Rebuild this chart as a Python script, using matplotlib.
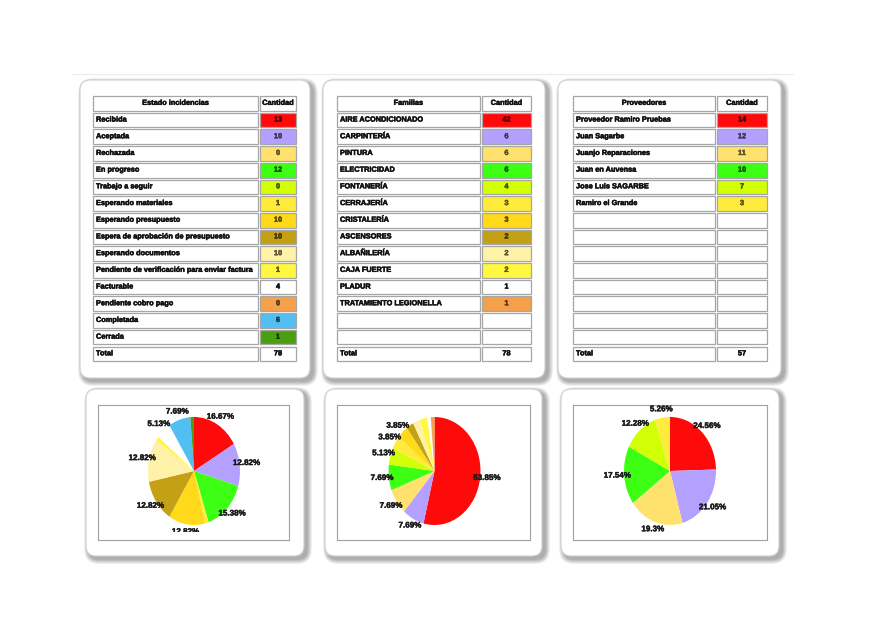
import matplotlib
matplotlib.use('Agg')
import matplotlib.pyplot as plt
from matplotlib.patches import FancyBboxPatch, Rectangle
from matplotlib.colors import to_rgb
import matplotlib.patheffects as pe

# ---------------- data ----------------
estado_labels = ["Recibida", "Aceptada", "Rechazada", "En progreso", "Trabajo a seguir",
                 "Esperando materiales", "Esperando presupuesto",
                 "Espera de aprobación de presupuesto", "Esperando documentos",
                 "Pendiente de verificación para enviar factura", "Facturable",
                 "Pendiente cobro pago", "Completada", "Cerrada"]
estado_values = [13, 10, 0, 12, 0, 1, 10, 10, 10, 1, 4, 0, 6, 1]

familias_labels = ["AIRE ACONDICIONADO", "CARPINTERÍA", "PINTURA", "ELECTRICIDAD",
                   "FONTANERÍA", "CERRAJERÍA", "CRISTALERÍA", "ASCENSORES",
                   "ALBAÑILERÍA", "CAJA FUERTE", "PLADUR", "TRATAMIENTO LEGIONELLA"]
familias_values = [42, 6, 6, 6, 4, 3, 3, 2, 2, 2, 1, 1]

proveedores_labels = ["Proveedor Ramiro Pruebas", "Juan Sagarbe", "Juanjo Reparaciones",
                      "Juan en Auvensa", "Jose Luis SAGARBE", "Ramiro el Grande"]
proveedores_values = [14, 12, 11, 10, 7, 3]

table_titles = ["Estado incidencias", "Familias", "Proveedores"]
quantity_title = "Cantidad"
total_label = "Total"

palette = ['#FF0A0A', '#B4A0FF', '#FFE16E', '#3CFF14', '#D2FF05', '#FFEB3B', '#FFD91A',
           '#C4A014', '#FFF2A8', '#FFF740', '#FFFFFF', '#F5A04B', '#52BFF2', '#48A010']

datasets = [(estado_labels, estado_values), (familias_labels, familias_values),
            (proveedores_labels, proveedores_values)]

# ---------------- layout ----------------
W, H = 875, 635
FONT = ['Liberation Sans', 'DejaVu Sans']
fig = plt.figure(figsize=(W / 100, H / 100), dpi=100)
fig.patch.set_facecolor('white')
bg = fig.add_axes([0, 0, 1, 1])
bg.set_xlim(0, W)
bg.set_ylim(H, 0)
bg.axis('off')

# faint top rule
bg.plot([72, 793], [74, 74], color='#ececec', lw=0.8, solid_capstyle='butt')

top_cards = [(80, 80, 310, 378), (323, 80, 545, 378), (558, 80, 781, 378)]
bottom_cards = [(86, 389, 304, 556), (325, 389, 542, 556), (561, 389, 779, 556)]


def card(x0, y0, x1, y1):
    w, h = x1 - x0, y1 - y0
    for i in range(7, 0, -1):
        sh = FancyBboxPatch((x0 + 3, y0 + 3), w, h,
                            boxstyle=f"round,pad={i*0.7},rounding_size={10+i*0.7}",
                            facecolor='black', edgecolor='none', alpha=0.05, zorder=1)
        bg.add_patch(sh)
    c = FancyBboxPatch((x0, y0), w, h, boxstyle="round,pad=0,rounding_size=10",
                       facecolor='white', edgecolor='#cfcfcf', lw=0.8, zorder=2)
    bg.add_patch(c)


for cd in top_cards + bottom_cards:
    card(*cd)

# ---------------- tables ----------------
table_cols = [(92, 259, 297), (336, 481, 532), (572, 716, 768)]
table_top = 95
row_h = 16.7
body_rows = 14
TS = 5.3


def darker(c, f=0.35):
    r, g, b = to_rgb(c)
    if min(r, g, b) > 0.95:
        return '#111111'
    return (r * f, g * f, b * f)


def cell(x0, y0, x1, y1, fill='white'):
    bg.add_patch(Rectangle((x0 + 1, y0 + 1), x1 - x0 - 2, y1 - y0 - 2,
                           facecolor=fill, edgecolor='#a6a6a6', lw=0.9, zorder=3))


def txt(x, y, s, ha, color='#111111'):
    bg.text(x, y, s, ha=ha, va='center', fontsize=TS, fontweight='bold', family=FONT,
            color=color, zorder=4,
            path_effects=[pe.withStroke(linewidth=0.35, foreground=color)])


for t, ((labels, values), (cx0, cx1, cx2)) in enumerate(zip(datasets, table_cols)):
    y = table_top
    cell(cx0, y, cx1, y + row_h)
    cell(cx1, y, cx2, y + row_h)
    txt((cx0 + cx1) / 2, y + row_h / 2, table_titles[t], 'center')
    txt((cx1 + cx2) / 2, y + row_h / 2, quantity_title, 'center')
    for r in range(body_rows):
        y = table_top + (r + 1) * row_h
        if r < len(labels):
            col = palette[r]
            cell(cx0, y, cx1, y + row_h)
            cell(cx1, y, cx2, y + row_h, col)
            txt(cx0 + 4, y + row_h / 2, labels[r], 'left')
            txt((cx1 + cx2) / 2, y + row_h / 2, str(values[r]), 'center', darker(col))
        else:
            cell(cx0, y, cx1, y + row_h)
            cell(cx1, y, cx2, y + row_h)
    y = table_top + (body_rows + 1) * row_h
    cell(cx0, y, cx1, y + row_h)
    cell(cx1, y, cx2, y + row_h)
    txt(cx0 + 4, y + row_h / 2, total_label, 'left')
    txt((cx1 + cx2) / 2, y + row_h / 2, str(sum(values)), 'center')

# ---------------- pies ----------------
frames = [(98, 405, 289, 540), (337, 405, 530, 540), (573, 405, 767, 540)]
centers = [(194, 471), (434.5, 471), (670, 471)]
rx, ry = 46, 54
clip_bottom = 531.5


def pct_fmt(p):
    if p < 3:
        return ''
    return f"{p:.2f}".rstrip('0').rstrip('.') + '%'


for (labels, values), (fx0, fy0, fx1, fy1), (pcx, pcy) in zip(datasets, frames, centers):
    ax = fig.add_axes([fx0 / W, 1 - fy1 / H, (fx1 - fx0) / W, (fy1 - fy0) / H])
    wedges, texts, autotexts = ax.pie(
        values, colors=palette[:len(values)], startangle=90, counterclock=False,
        autopct=pct_fmt, pctdistance=1.15, wedgeprops=dict(linewidth=0),
        textprops=dict(fontsize=5.8, fontweight='bold', family=FONT, color='#1a1a1a'))
    ax.set_aspect('auto')
    ax.set_xlim(-(pcx - fx0) / rx, (fx1 - pcx) / rx)
    ax.set_ylim(-(fy1 - pcy) / ry, (pcy - fy0) / ry)
    for at in autotexts:
        at.set_path_effects([pe.withStroke(linewidth=0.3, foreground='#1a1a1a')])
        clip = Rectangle((0, (fy1 - clip_bottom) / (fy1 - fy0)), 1,
                         (clip_bottom - fy0) / (fy1 - fy0), transform=ax.transAxes)
        at.set_clip_path(clip)
        at.set_clip_on(True)
    ax.set_frame_on(True)
    for s in ax.spines.values():
        s.set_visible(True)
        s.set_color('#a0a0a0')
        s.set_linewidth(0.8)
    ax.set_xticks([])
    ax.set_yticks([])
    ax.set_facecolor('white')

fig.savefig('out.png', dpi=100, facecolor='white')
